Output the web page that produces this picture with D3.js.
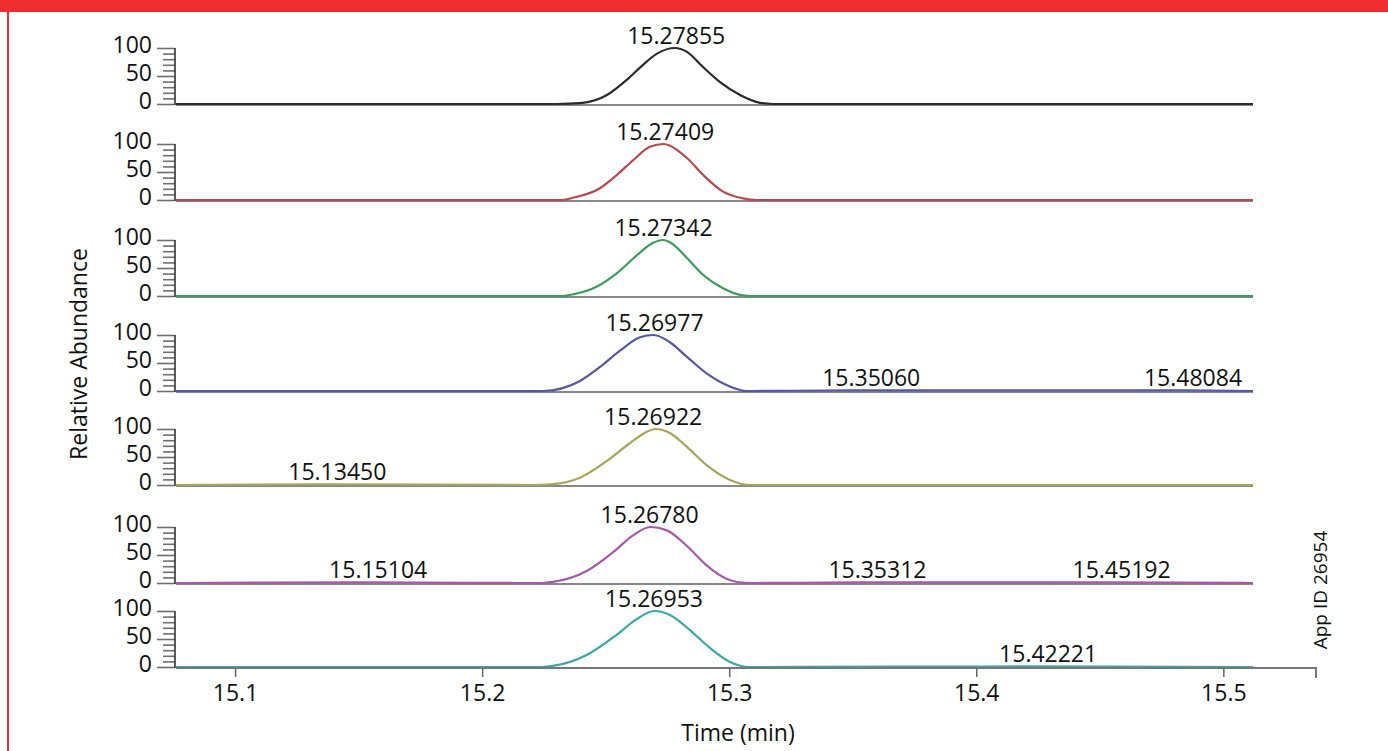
<!DOCTYPE html>
<html>
<head>
<meta charset="utf-8">
<script src="https://cdn.jsdelivr.net/npm/d3@7"></script>
<style>
  body { margin: 0; background: #fff; }
  text { font-family: "Open Sans", "Noto Sans", sans-serif; fill: #111; }
</style>
</head>
<body>
<div id="chart"></div>
<script>
// chart data
var timeDomain = [15.0761, 15.5375];
var traceEnd = 15.512;
var xTicks = [15.1, 15.2, 15.3, 15.4, 15.5];
var yTicks = [0, 50, 100];
var yMinorTicks = [10, 20, 30, 40, 60, 70, 80, 90];

var apexLabels = ["15.27855", "15.27409", "15.27342", "15.26977", "15.26922", "15.26780", "15.26953"];
var minorLabels = [
  [],
  [],
  [],
  ["15.35060", "15.48084"],
  ["15.13450"],
  ["15.15104", "15.35312", "15.45192"],
  ["15.42221"]
];
var traceColors = ["#2b2b2b", "#b54a4c", "#3d9b60", "#5558a2", "#a6a55e", "#a35ba9", "#3ca7a6"];

// [time (min), relative abundance]
var trace1 = [[15.0761, 0], [15.2300, 0], [15.2408, 2], [15.2505, 16], [15.2590, 45], [15.2639, 65], [15.2708, 90],
  [15.2780, 100], [15.2829, 93], [15.2894, 66], [15.2963, 39], [15.3044, 16], [15.3125, 2], [15.3177, 0], [15.5120, 0]];
var trace2 = [[15.0761, 0], [15.2327, 0], [15.2368, 4], [15.2477, 21], [15.2546, 45], [15.2611, 71], [15.2679, 95],
  [15.2735, 100], [15.2760, 97], [15.2829, 75], [15.2894, 45], [15.2975, 15], [15.3056, 3], [15.3113, 0], [15.5120, 0]];
var trace3 = [[15.0761, 0], [15.2320, 0], [15.2368, 3], [15.2465, 17], [15.2546, 41], [15.2627, 73], [15.2692, 95],
  [15.2732, 100], [15.2760, 96], [15.2829, 68], [15.2894, 38], [15.2975, 14], [15.3056, 1], [15.3090, 0], [15.5120, 0]];
var trace4 = [[15.0761, 0], [15.2246, 0], [15.2396, 18], [15.2477, 43], [15.2558, 72], [15.2639, 96], [15.2695, 100],
  [15.2760, 87], [15.2829, 61], [15.2910, 31], [15.3003, 8], [15.3072, 0], [15.3506, 1], [15.4808, 1], [15.5120, 0]];
var trace5 = [[15.0761, 0], [15.1345, 1], [15.2200, 0], [15.2275, 1], [15.2396, 13], [15.2505, 43], [15.2599, 75],
  [15.2667, 95], [15.2700, 100], [15.2760, 93], [15.2829, 68], [15.2910, 35], [15.3003, 9], [15.3084, 0], [15.5120, 0]];
var trace6 = [[15.0761, 0], [15.1510, 1], [15.2240, 0], [15.2287, 2], [15.2425, 22], [15.2530, 55], [15.2611, 85],
  [15.2680, 100], [15.2748, 94], [15.2829, 66], [15.2910, 31], [15.2991, 7], [15.3072, 0], [15.3531, 1], [15.4519, 1], [15.5120, 0]];
var trace7 = [[15.0761, 0], [15.2240, 0], [15.2287, 2], [15.2425, 22], [15.2546, 58], [15.2627, 86], [15.2697, 100],
  [15.2760, 93], [15.2841, 66], [15.2922, 34], [15.3003, 9], [15.3084, 0], [15.4222, 1], [15.5120, 0]];

var traces = [trace1, trace2, trace3, trace4, trace5, trace6, trace7];

// svg container
var svgWidth = 1388;
var svgHeight = 751;

// panel layout (top of each strip, strip height)
var panelTops = [48, 144, 240, 335, 429, 527, 611];
var panelHeight = 56;
var plotLeft = 176;
var axisRight = 1316;
var fontSize = "23px";

var svg = d3.select("#chart").append("svg")
  .attr("width", svgWidth)
  .attr("height", svgHeight);

// red frame
svg.append("rect").attr("x", 0).attr("y", 0).attr("width", svgWidth).attr("height", 12).attr("fill", "#ee2d2f");
svg.append("rect").attr("x", 7).attr("y", 0).attr("width", 2).attr("height", svgHeight).attr("fill", "#ee2d2f");

// x scale
var xScale = d3.scaleLinear()
  .domain(timeDomain)
  .range([plotLeft, axisRight]);

traces.forEach(function(trace, i) {
  var top = panelTops[i];
  var yScale = d3.scaleLinear()
    .domain([0, 100])
    .range([top + panelHeight, top]);

  var panel = svg.append("g").attr("class", "panel");

  // y axis with minor ticks
  var minorAxis = d3.axisLeft(yScale).tickValues(yMinorTicks).tickSize(12).tickFormat("");
  var gMinor = panel.append("g")
    .attr("transform", "translate(" + (plotLeft - 1) + ",0)")
    .call(minorAxis);
  gMinor.select(".domain").remove();
  gMinor.selectAll("line").attr("stroke", "#6f6f6f").attr("stroke-width", 1.6);

  var yAxis = d3.axisLeft(yScale).tickValues(yTicks).tickSize(18).tickPadding(5);
  var gY = panel.append("g")
    .attr("transform", "translate(" + (plotLeft - 1) + ",0)")
    .call(yAxis);
  gY.select(".domain").remove();
  gY.selectAll("line").attr("stroke", "#6f6f6f").attr("stroke-width", 1.6);
  gY.selectAll("text")
    .attr("dy", "0.2em")
    .style("font-size", fontSize)
    .style("font-family", "'Open Sans', sans-serif")
    .attr("fill", "#111");

  panel.append("line")
    .attr("x1", plotLeft - 1).attr("x2", plotLeft - 1)
    .attr("y1", yScale(100)).attr("y2", yScale(0) + 1)
    .attr("stroke", "#333").attr("stroke-width", 1.6);

  // baseline
  if (i < traces.length - 1) {
    panel.append("line")
      .attr("x1", plotLeft).attr("x2", xScale(traceEnd))
      .attr("y1", yScale(0) + 1).attr("y2", yScale(0) + 1)
      .attr("stroke", "#888").attr("stroke-width", 2);
  }

  // trace
  var line = d3.line()
    .x(d => xScale(d[0]))
    .y(d => yScale(d[1]))
    .curve(d3.curveMonotoneX);

  panel.append("path")
    .datum(trace)
    .attr("d", line)
    .attr("fill", "none")
    .attr("stroke", traceColors[i])
    .attr("stroke-width", 2.2)
    .attr("stroke-linejoin", "round");

  // apex label
  panel.append("text")
    .attr("x", xScale(+apexLabels[i]))
    .attr("y", yScale(100) - 4)
    .attr("text-anchor", "middle")
    .style("font-size", fontSize)
    .text(apexLabels[i]);

  // minor peak labels
  panel.selectAll(".minorLabel")
    .data(minorLabels[i])
    .enter()
    .append("text")
    .attr("class", "minorLabel")
    .attr("x", d => xScale(+d) + 17)
    .attr("y", yScale(0) - 5)
    .attr("text-anchor", "middle")
    .style("font-size", fontSize)
    .text(d => d);
});

// bottom x axis
var bottomY = panelTops[panelTops.length - 1] + panelHeight + 1;
var xAxis = d3.axisBottom(xScale).tickValues(xTicks).tickSize(9).tickPadding(8).tickFormat(d3.format(".1f"));
var gX = svg.append("g")
  .attr("transform", "translate(0," + bottomY + ")")
  .call(xAxis);
gX.select(".domain")
  .attr("d", "M" + plotLeft + ",0H" + axisRight + "V10")
  .attr("stroke", "#777").attr("stroke-width", 2);
gX.selectAll("line").attr("stroke", "#666").attr("stroke-width", 1.5);
gX.selectAll("text")
  .style("font-size", fontSize)
  .style("font-family", "'Open Sans', sans-serif")
  .attr("fill", "#111");

// axis labels
svg.append("text")
  .attr("transform", "translate(" + 87 + "," + 354 + ") rotate(-90)")
  .attr("text-anchor", "middle")
  .style("font-size", fontSize)
  .text("Relative Abundance");

svg.append("text")
  .attr("x", 738)
  .attr("y", 741)
  .attr("text-anchor", "middle")
  .style("font-size", fontSize)
  .text("Time (min)");

svg.append("text")
  .attr("transform", "translate(" + 1327 + "," + 590 + ") rotate(-90)")
  .attr("text-anchor", "middle")
  .style("font-size", "19px")
  .text("App ID 26954");
</script>
</body>
</html>
